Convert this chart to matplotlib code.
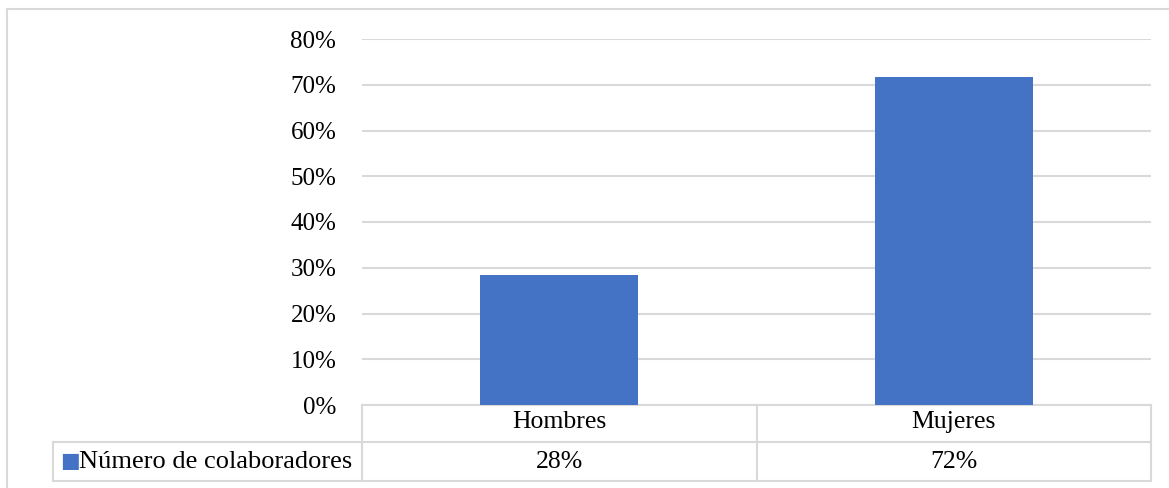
import matplotlib.pyplot as plt
from matplotlib.ticker import PercentFormatter

# Datos
categorias = ['Hombres', 'Mujeres']
valores = [0.284, 0.716]
etiquetas = ['28%', '72%']
serie = 'Número de colaboradores'

plt.rcParams['font.family'] = ['Liberation Serif', 'DejaVu Serif']

W, H = 1169, 488
fig = plt.figure(figsize=(W / 100, H / 100), dpi=100)
ax = fig.add_axes([362 / W, 1 - 405 / H, (1151 - 362) / W, (405 - 39) / H])

gris = '#d9d9d9'
azul = '#4472c4'
x = [i + 0.5 for i in range(len(categorias))]
ax.bar(x, valores, width=0.4, color=azul, zorder=3)

ax.set_xlim(0, len(categorias))
ax.set_ylim(0, 0.8)
ax.set_yticks([i / 10 for i in range(9)])
ax.yaxis.set_major_formatter(PercentFormatter(1.0, decimals=0))
ax.grid(axis='y', color=gris, linewidth=1.5, zorder=0)
ax.tick_params(axis='y', length=0, pad=18.5, labelsize=18)
ax.set_xticks([])
for s in ax.spines.values():
    s.set_visible(False)

# Tabla de datos (coordenadas de ejes)
ax_h = 405 - 39
r1 = -37 / ax_h
r2 = -76 / ax_h
izq = (53 - 362) / (1151 - 362) * len(categorias)
kw = dict(color=gris, linewidth=1.5, clip_on=False,
          transform=ax.get_xaxis_transform())
n = len(categorias)
ax.plot([0, n], [0, 0], **kw)
ax.plot([izq, n], [r1, r1], **kw)
ax.plot([izq, n], [r2, r2], **kw)
ax.plot([izq, izq], [r1, r2], **kw)
for i in range(n + 1):
    ax.plot([i, i], [0, r2], **kw)
tr = ax.get_xaxis_transform()
for xi, cat, et in zip(x, categorias, etiquetas):
    ax.text(xi, r1 / 2 + 0.003, cat, ha='center', va='center', fontsize=18.5, transform=tr)
    ax.text(xi, (r1 + r2) / 2, et, ha='center', va='center', fontsize=18.5, transform=tr)
ax.text(izq + 0.065, (r1 + r2) / 2, serie, ha='left', va='center',
        fontsize=19, transform=tr)
ax.text(izq + 0.017, (r1 + r2) / 2, '\u25A0', ha='left', va='center',
        fontsize=15, color=azul, transform=tr, family='DejaVu Sans')

# Borde del gráfico
fig.add_artist(plt.Line2D([7 / W, 7 / W], [0, 1 - 9 / H], color=gris,
                          linewidth=1.5, transform=fig.transFigure))
fig.add_artist(plt.Line2D([7 / W, 1], [1 - 9 / H, 1 - 9 / H], color=gris,
                          linewidth=1.5, transform=fig.transFigure))

fig.savefig('out.png', dpi=100)
